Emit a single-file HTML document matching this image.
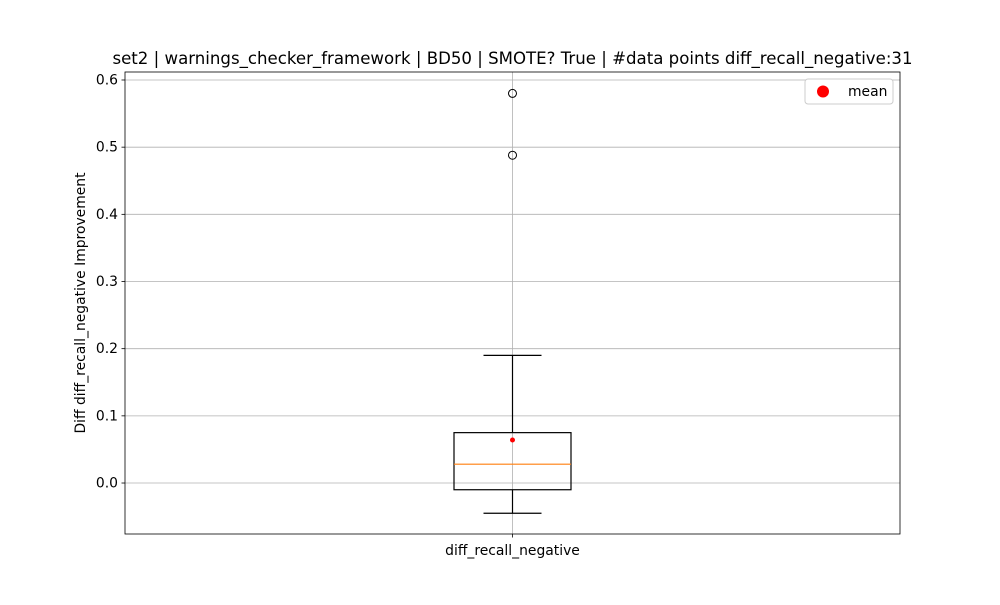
<!DOCTYPE html>
<html><head><meta charset="utf-8"><style>body{margin:0;background:#fff}svg text{font-family:"DejaVu Sans","Liberation Sans",sans-serif}</style></head>
<body>
<svg id="chart" width="1000" height="600"></svg>
<script>
const categories=["diff_recall_negative"];
const q1Values=[-0.01];
const q3Values=[0.075];
const medianValues=[0.028];
const whiskerLow=[-0.045];
const whiskerHigh=[0.19];
const meanValues=[0.064];
const outlierValues=[[0.58,0.488]];
const yTicks=[0.0,0.1,0.2,0.3,0.4,0.5,0.6];
const yTickLabels=["0.0","0.1","0.2","0.3","0.4","0.5","0.6"];

const L=125,R=900,T=72,B=534,yMin=-0.0759,yMax=0.6119;
const y=v=>B-(v-yMin)/(yMax-yMin)*(B-T);
const x=i=>L+(i+0.5)*(R-L)/categories.length;
const svg=document.getElementById('chart');
const NS="http://www.w3.org/2000/svg";
function mk(tag,attrs,parent){const e=document.createElementNS(NS,tag);for(const k in attrs)e.setAttribute(k,attrs[k]);(parent||svg).appendChild(e);return e;}
function txt(s,attrs){const e=mk('text',attrs);e.textContent=s;return e;}

const grid=mk('g',{});


yTicks.forEach((t,i)=>{
  mk('line',{x1:L,x2:R,y1:y(t),y2:y(t),stroke:'#b0b0b0','stroke-width':0.8},grid);
  mk('line',{x1:L-3.5,x2:L,y1:y(t),y2:y(t),stroke:'#000','stroke-width':0.8});
  const lb=txt(yTickLabels[i],{x:L-7,y:y(t)+4.5,'text-anchor':'end','font-size':13.9});
  
  
});
categories.forEach((c,i)=>{
  const cx=x(i);
  mk('line',{x1:cx,x2:cx,y1:T,y2:B,stroke:'#b0b0b0','stroke-width':0.8},grid);
  mk('line',{x1:cx,x2:cx,y1:B,y2:B+3.5,stroke:'#000','stroke-width':0.8});
  const lb=txt(c,{x:cx,y:B+21,'text-anchor':'middle','font-size':13.9});
  
  
  const g=mk('g',{});
  
  
  const hw=58.5,cw=29;
  mk('rect',{x:cx-hw,y:y(q3Values[i]),width:2*hw,height:y(q1Values[i])-y(q3Values[i]),fill:'none',stroke:'#000','stroke-width':1.2},g);
  mk('line',{x1:cx,x2:cx,y1:y(q3Values[i]),y2:y(whiskerHigh[i]),stroke:'#000','stroke-width':1.2},g);
  mk('line',{x1:cx,x2:cx,y1:y(q1Values[i]),y2:y(whiskerLow[i]),stroke:'#000','stroke-width':1.2},g);
  mk('line',{x1:cx-cw,x2:cx+cw,y1:y(whiskerHigh[i]),y2:y(whiskerHigh[i]),stroke:'#000','stroke-width':1.2},g);
  mk('line',{x1:cx-cw,x2:cx+cw,y1:y(whiskerLow[i]),y2:y(whiskerLow[i]),stroke:'#000','stroke-width':1.2},g);
  mk('line',{x1:cx-hw,x2:cx+hw,y1:y(medianValues[i]),y2:y(medianValues[i]),stroke:'#ff7f0e','stroke-width':1.2},g);
  outlierValues[i].forEach(v=>{
    const o=mk('circle',{cx:cx,cy:y(v),r:4,fill:'none',stroke:'#000','stroke-width':1});
    
    
  });
  const m=mk('circle',{cx:cx,cy:y(meanValues[i]),r:2.5,fill:'red'});
  
  
});
mk('rect',{x:L,y:T,width:R-L,height:B-T,fill:'none',stroke:'#000','stroke-width':0.8});
const title=txt('set2 | warnings_checker_framework | BD50 | SMOTE? True | #data points diff_recall_negative:31',{x:(L+R)/2,y:64,'text-anchor':'middle','font-size':16.6});


const yl=txt('Diff diff_recall_negative Improvement',{x:0,y:0,'text-anchor':'middle','font-size':13.9,transform:`translate(85,${(T+B)/2}) rotate(-90)`});


const lg=mk('g',{});


mk('rect',{x:805,y:79,width:88,height:25,rx:3,fill:'#fff',stroke:'#ccc'},lg);
mk('circle',{cx:823,cy:91.5,r:6,fill:'red'},lg);
const lt=mk('text',{x:848,y:96,'font-size':13.9},lg);lt.textContent='mean';
</script>
</body></html>
